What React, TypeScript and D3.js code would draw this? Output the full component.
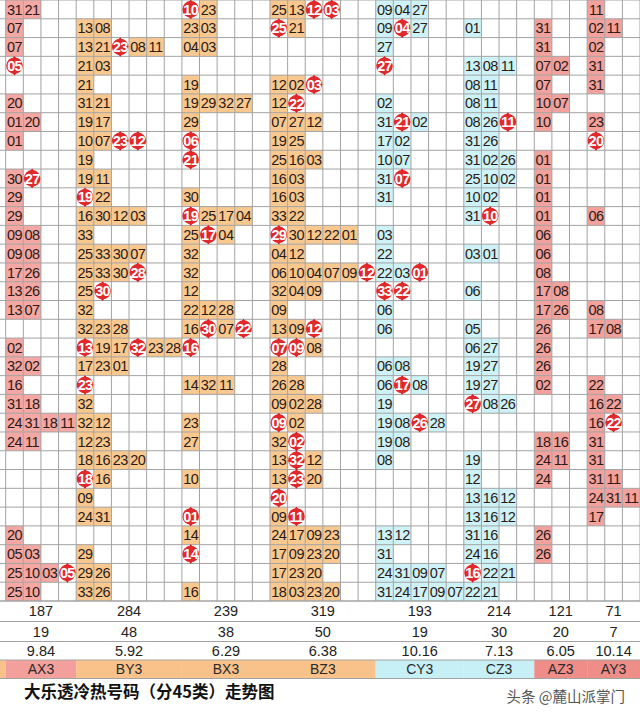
import React from "react";
import * as d3 from "d3";

// ---- data ----
const groupNames = ["AX3", "BY3", "BX3", "BZ3", "CY3", "CZ3", "AZ3", "AY3"];
const groupCols = [4, 6, 5, 6, 5, 4, 3, 3];
const sumRow = ["187", "284", "239", "319", "193", "214", "121", "71"];
const countRow = ["19", "48", "38", "50", "19", "30", "20", "7"];
const avgRow = ["9.84", "5.92", "6.29", "6.38", "10.16", "7.13", "6.05", "10.14"];
const title = "大乐透冷热号码（分45类）走势图";
const watermark = "头条 @麓山派掌门";

// "*" marks a hit number (red ball)
const AX3 = ["31 21", "07", "07", "*05", "", "20", "01 20", "01", "", "30 *27", "29", "29", "09 08", "09 08", "17 26", "13 26", "13 07", "", "02", "32 02", "16", "31 18", "24 31 18 11", "24 11", "", "", "", "", "20", "05 03", "25 10 03 *05", "25 10"];
const BY3 = ["", "13 08", "13 21 *23 08 11", "21 03", "21", "31 21", "19 17", "10 07 *23 *12", "19", "19 11", "*19 22", "16 30 12 03", "33", "25 33 30 07", "25 33 30 *28", "25 *30", "32", "32 23 28", "*13 19 17 *32 23 28", "17 23 01", "*23", "32", "32 12", "12 23", "18 16 23 20", "*18 16", "09", "24 31", "", "29", "29 26", "33 26"];
const BX3 = ["*10 23", "23 03", "04 03", "", "19", "19 29 32 27", "29", "*06", "*21", "", "30", "*19 25 17 04", "25 *17 04", "32", "32", "12", "22 12 28", "16 *30 07 *22", "*16", "", "14 32 11", "", "23", "27", "", "10", "", "*01", "14", "*14", "", "16"];
const BZ3 = ["25 13 *12 *03", "*25 21", "", "", "12 02 *03", "12 *22", "07 27 12", "19 25", "25 16 03", "16 03", "16 03", "33 22", "*29 30 12 22 01", "04 12", "06 10 04 07 09 *12", "32 04 09", "09", "13 09 *12", "*07 *09 08", "28", "26 28", "09 02 28", "*09 02", "32 *02", "13 *32 12", "13 *23 20", "*20", "09 *11", "24 17 09 23", "17 09 23 20", "17 23 20", "18 03 23 20"];
const CY3 = ["09 04 27", "09 *04 27", "27", "*27", "", "02", "31 *21 02", "17 02", "10 07", "31 *07", "31", "", "03", "22", "22 03 *01", "*33 *22", "06", "06", "", "06 08", "06 *17 08", "19", "19 08 *26 28", "19 08", "08", "", "", "", "13 12", "31", "24 31 09 07", "31 24 17 09 07"];
const CZ3 = ["", "01", "", "13 08 11", "08 11", "08 11", "08 26 *11", "31 26", "31 02 26", "25 10 02", "10 02", "31 *10", "", "03 01", "", "06", "", "05", "06 27", "19 27", "19 27", "*27 08 26", "", "", "19", "12", "13 16 12", "13 16 12", "31 16", "24 16", "*16 22 21", "22 21"];
const AZ3 = ["", "31", "31", "07 02", "07", "10 07", "10", "", "01", "01", "01", "01", "06", "06", "08", "17 08", "17 26", "26", "26", "26", "02", "", "", "18 16", "24 11", "24", "", "", "26", "26", "", ""];
const AY3 = ["11", "02 11", "02", "31", "31", "", "23", "*20", "", "", "", "06", "", "", "", "", "08", "17 08", "", "", "22", "16 22", "16 *22", "31", "31", "31 11", "24 31 11", "17", "", "", "", ""];

const groupRows = [AX3, BY3, BX3, BZ3, CY3, CZ3, AZ3, AY3];

// ---- styles ----
const W = 640;
const H = 718;
const X0 = 5.7;
const GRID_BOTTOM = 601;
const statY = [601, 621.5, 641.5, 660, 678.5];
const cellFill = ["#f4a7a3", "#f9c88f", "#f9c88f", "#f9c88f", "#cdf2f7", "#cdf2f7", "#f3a19c", "#f3a19c"];
const labelFill = ["#f3a09c", "#f8c28a", "#f8c28a", "#f8c28a", "#c6eff6", "#c6eff6", "#ef8d88", "#ef8d88"];
const lineColor = "#a3a3a3";
const textColor = "#2b1b17";
const font = "'Liberation Sans', Arial, sans-serif";

export default function App() {
  const totalCols = d3.sum(groupCols);
  const nRows = AX3.length;
  const x = d3.scaleLinear().domain([0, totalCols]).range([X0, W]);
  const y = d3.scaleBand<number>().domain(d3.range(nRows)).range([0, GRID_BOTTOM]).paddingInner(0);
  const colW = x(1) - x(0);
  const rowH = y.bandwidth();
  const starts = d3.cumsum([0, ...groupCols]);

  type Cell = { col: number; row: number; g: number; val: string; ball: boolean };
  const cells: Cell[] = [];
  groupRows.forEach((rows, g) => {
    rows.forEach((r, ri) => {
      if (!r) return;
      r.split(" ").forEach((tok, k) => {
        const ball = tok.startsWith("*");
        cells.push({ col: starts[g] + k, row: ri, g, val: ball ? tok.slice(1) : tok, ball });
      });
    });
  });

  const vLines = d3.range(totalCols + 1).map((i) => x(i));
  const hLines = d3.range(nRows + 1).map((i) => (i < nRows ? (y(i) as number) : GRID_BOTTOM));

  return (
    <svg width={W} height={H} style={{ position: "absolute", left: 0, top: 0, background: "#fff" }}>
      <rect x={0} y={0} width={W} height={H} fill="#fff" />
      {cells.filter((c) => !c.ball).map((c, i) => (
        <rect key={"f" + i} x={x(c.col)} y={y(c.row)} width={colW} height={rowH} fill={cellFill[c.g]} />
      ))}
      <rect x={0} y={statY[3]} width={X0} height={statY[4] - statY[3]} fill="#f8c28a" />
      {groupNames.map((n, g) => (
        <rect key={"lf" + g} x={x(starts[g])} y={statY[3]} width={x(starts[g + 1]) - x(starts[g])} height={statY[4] - statY[3]} fill={labelFill[g]} />
      ))}
      {vLines.map((vx, i) => (
        <line key={"v" + i} x1={vx} x2={vx} y1={0} y2={GRID_BOTTOM} stroke={lineColor} strokeWidth={1} />
      ))}
      {hLines.map((hy, i) => (
        <line key={"h" + i} x1={0} x2={W} y1={hy} y2={hy} stroke={lineColor} strokeWidth={1} />
      ))}
      {statY.map((sy, i) => (
        <line key={"s" + i} x1={0} x2={W} y1={sy} y2={sy} stroke={lineColor} strokeWidth={1} />
      ))}
      {starts.map((s, i) => (
        <line key={"sv" + i} x1={x(s)} x2={x(s)} y1={statY[0]} y2={statY[4]} stroke={lineColor} strokeWidth={1} />
      ))}
      {cells.map((c, i) => {
        const cx = x(c.col) + colW / 2;
        const cy = (y(c.row) as number) + rowH / 2;
        if (!c.ball) {
          return (
            <text key={"t" + i} x={cx} y={cy + 5.2} textAnchor="middle" fontSize={14.5} fontFamily={font} fill={textColor} letterSpacing={-0.5}>
              {c.val}
            </text>
          );
        }
        return (
          <g key={"b" + i} transform={`translate(${cx},${cy})`}>
            <path d="M-3.4,-5.5 L0,-9.8 L3.4,-5.5 Z" fill="#c8161c" />
            <path d="M-3.4,5.5 L0,9.8 L3.4,5.5 Z" fill="#c8161c" />
            <circle r={8.3} fill="#e1282b" />
            <text x={0} y={5.2} textAnchor="middle" fontSize={14.5} fontWeight="bold" fontFamily={font} fill="#fff" letterSpacing={-0.7}>
              {c.val}
            </text>
          </g>
        );
      })}
      {[sumRow, countRow, avgRow].map((arr, ri) =>
        arr.map((v, g) => (
          <text key={"st" + ri + "-" + g} x={(x(starts[g]) + x(starts[g + 1])) / 2} y={(statY[ri] + statY[ri + 1]) / 2 + 5} textAnchor="middle" fontSize={14.5} fontFamily={font} fill="#222">
            {v}
          </text>
        ))
      )}
      {groupNames.map((n, g) => (
        <text key={"ln" + g} x={(x(starts[g]) + x(starts[g + 1])) / 2} y={(statY[3] + statY[4]) / 2 + 5} textAnchor="middle" fontSize={14} fontFamily={font} fill="#2a2a2a">
          {n}
        </text>
      ))}
      <text x={24} y={698} fontSize={16.5} fontWeight="bold" fontFamily="'Noto Sans CJK SC', sans-serif" fill="#111">
        {title}
      </text>
      <text x={625} y={702} textAnchor="end" fontSize={14.5} fontFamily="'Noto Sans CJK SC', sans-serif" fill="#555">
        {watermark}
      </text>
    </svg>
  );
}
